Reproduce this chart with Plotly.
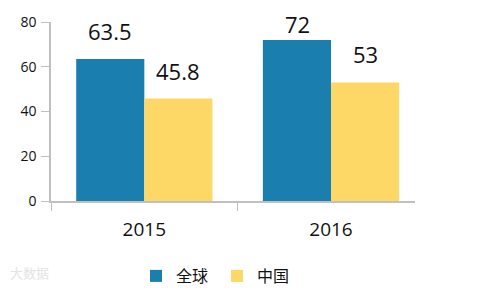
import plotly.graph_objects as go

years = ["2015", "2016"]
global_vals = [63.5, 72]
china_vals = [45.8, 53]
series_names = ["全球", "中国"]
colors = ["#1a7fae", "#fdd866"]

FONT = "Open Sans, Noto Sans CJK SC, sans-serif"
CJK = "Noto Sans CJK SC, sans-serif"

W, H = 490, 292
ML, MR, MT, MB = 51, 75, 19, 91
YMAX = 80
ppu = (H - MT - MB) / YMAX

fig = go.Figure()
for name, vals, c in zip(series_names, [global_vals, china_vals], colors):
    fig.add_trace(go.Bar(name=name, x=years, y=vals, marker=dict(color=c, line=dict(width=0))))

for vals, shift in zip([global_vals, china_vals], [-34, 34]):
    for i, v in enumerate(vals):
        bar_top = MT + (YMAX - v) * ppu
        ys = min(11, bar_top - 38)
        fig.add_annotation(x=i, y=v, text=f"{v:g}", showarrow=False, xshift=shift, yshift=ys,
                           yanchor="bottom", font=dict(size=22, color="#111", family=FONT))

fig.add_annotation(xref="paper", yref="paper", x=-0.118, y=-0.40, xanchor="left", yanchor="middle",
                   text="大数据", showarrow=False, font=dict(size=13, color="#e4e4e4", family=CJK))

fig.update_layout(
    width=W, height=H,
    margin=dict(l=ML, r=MR, t=MT, b=MB),
    paper_bgcolor="white", plot_bgcolor="white",
    barmode="group", bargap=0.27, bargroupgap=0,
    font=dict(family=FONT, color="#111"),
    showlegend=True,
    legend=dict(orientation="h", xref="container", yref="container", x=136 / W, xanchor="left",
                y=1 - 276 / H, yanchor="middle", entrywidth=36, entrywidthmode="pixels",
                font=dict(size=16, color="#111", family=CJK), itemwidth=30, traceorder="normal"),
    xaxis=dict(type="category", range=[-0.5, 1.45], showline=True, linecolor="#c0c0c0", linewidth=1.5,
               ticks="outside", tickson="boundaries", ticklen=8, tickcolor="#c0c0c0",
               ticklabelstandoff=10, tickfont=dict(size=19, color="#111"), showgrid=False),
    yaxis=dict(range=[0, YMAX], tickvals=[0, 20, 40, 60, 80], showline=True, linecolor="#c0c0c0",
               linewidth=1.5, ticks="outside", ticklen=8, tickcolor="#c0c0c0", showgrid=False,
               zeroline=False, ticklabelstandoff=2, tickfont=dict(size=14, color="#111")),
)

fig.write_html("out.html")
